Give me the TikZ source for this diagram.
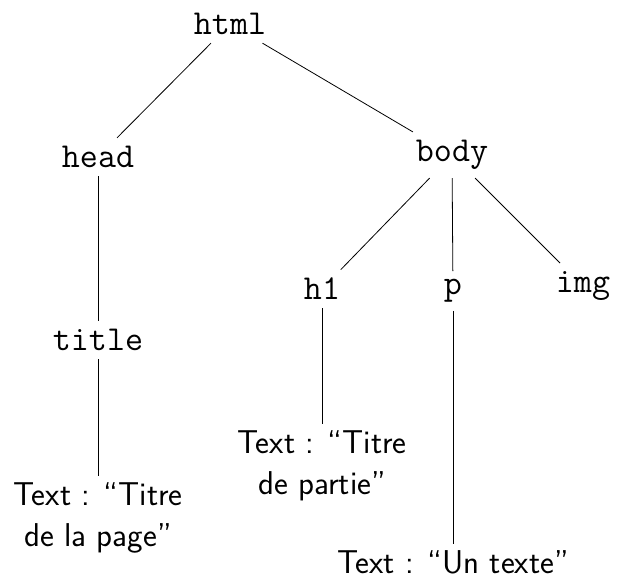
\documentclass[tikz,border=0pt]{standalone}
\usepackage{tikz}
\usetikzlibrary{positioning}
\tikzset{
    % Tree edges are plain thin lines
    tree edge/.style={draw, thin},
%
    % Tags of the document are set in typewriter
    tag/.style={font=\fontsize{17.5}{20}\selectfont\ttfamily, inner sep=4pt},
%
    % Text contents are set in sans serif, centred
    content/.style={font=\fontsize{16.5}{20.5}\selectfont\sffamily,
        align=center, inner sep=3pt}}

\begin{document}
\begin{tikzpicture}[x=0.5pt, y=-0.5pt]
\useasboundingbox (0,0) rectangle (621,583);

% Root and its two children
\node[tag] at (230,24) (html) {html};
\node[tag] at (98,157) (head) {head};
\node[tag] at (452,155) (body) {body};

% Children of head and body
\node[tag] at (98,340) (title) {title};
\node[tag] at (322,289) (h1) {h1};
\node[tag] at (453,291) (p) {p};
\node[tag] at (583,286) (img) {img};

% Text leaves
\node[content] at (98,518) (title text) {Text : ``Titre\\de la page''};
\node[content] at (322,466) (h1 text) {Text : ``Titre\\de partie''};
\node[content] at (453,562) (p text) {Text : ``Un texte''};

\path[tree edge] (html) -- (head);
\path[tree edge] (html) -- (body);
\path[tree edge] (head) -- (title);
\path[tree edge] (body) -- (h1);
\path[tree edge] (body) -- (p);
\path[tree edge] (body) -- (img);
\path[tree edge] (title) -- (title text);
\path[tree edge] (h1) -- (h1 text);
\path[tree edge] (p) -- (p text);
\end{tikzpicture}
\end{document}
